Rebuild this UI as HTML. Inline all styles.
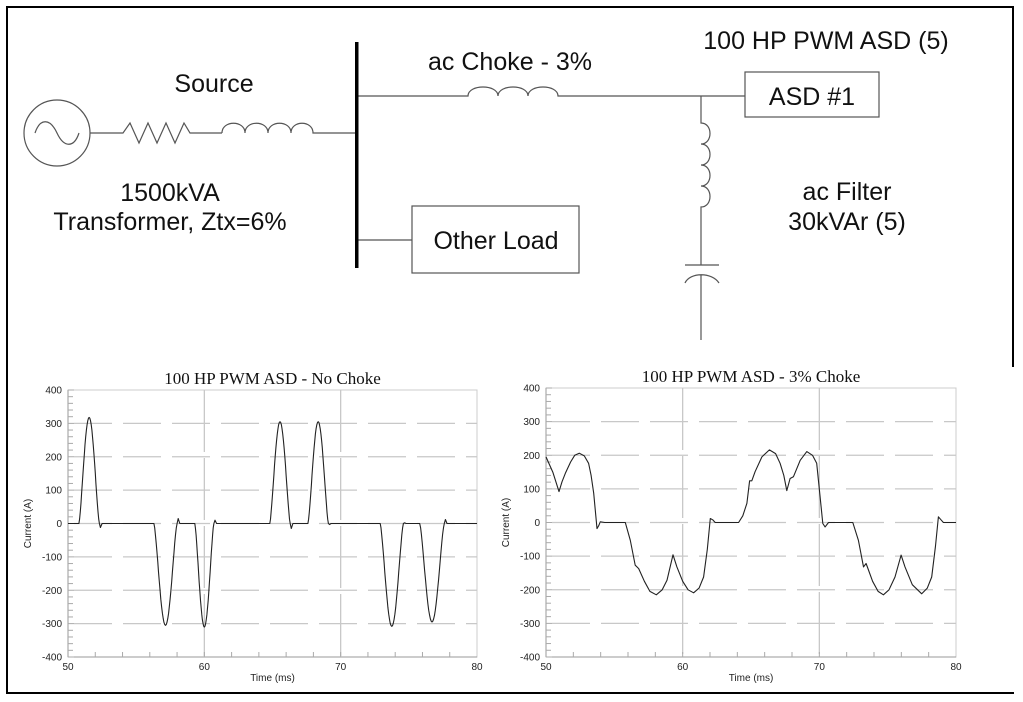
<!DOCTYPE html>
<html><head><meta charset="utf-8"><style>
html,body{margin:0;padding:0;background:#fff;}
svg{display:block;}
.s{font-family:"Liberation Sans",Arial,sans-serif;fill:#111;}
.t{font-family:"Liberation Serif",serif;font-size:17px;fill:#111;}
.k{font-family:"Liberation Sans",Arial,sans-serif;font-size:10px;fill:#222;}
</style></head><body>
<svg id="svg" width="1023" height="702" viewBox="0 0 1023 702" xmlns="http://www.w3.org/2000/svg">
<rect width="1023" height="702" fill="#fff"/>
<path d="M7,367 V7 H1013 V367" fill="none" stroke="#000" stroke-width="2"/>
<path d="M7,360 V693 H1014" fill="none" stroke="#000" stroke-width="2"/>
<g fill="none" stroke="#555" stroke-width="1.2">
<circle cx="57" cy="133" r="33"/>
<path d="M35,133 C40,118 50,118 57,133 C64,148 74,148 79,133"/>
<path d="M90,133 H123 L130,123 L139,143 L148,123 L157,143 L166,123 L175,143 L184,123 L190,133 H222"/>
<path d="M222,133 C222,120 245,120 245,133 C245,120 268,120 268,133 C268,120 291,120 291,133 C291,120 313,120 313,133 H355"/>
<path d="M358,96 H468 C468,84 498,84 498,96 C498,84 528,84 528,96 C528,84 558,84 558,96 H745"/>
<rect x="745" y="72" width="134" height="45"/>
<path d="M701,96 V123 C713,123 713,144 701,144 C713,144 713,165 701,165 C713,165 713,186 701,186 C713,186 713,207 701,207 V265"/>
<path d="M685,265 H719 M685,283 C690,272 712,272 719,283 M701,275 V340"/>
<path d="M358,240 H412"/>
<rect x="412" y="206" width="167" height="67"/>
</g>
<rect x="355" y="42" width="3.5" height="226" fill="#000"/>
<g class="s" font-size="25" text-anchor="middle">
<text x="214" y="92">Source</text>
<text x="170" y="201">1500kVA</text>
<text x="170" y="230">Transformer, Ztx=6%</text>
<text x="510" y="70">ac Choke - 3%</text>
<text x="826" y="49">100 HP PWM ASD (5)</text>
<text x="812" y="105">ASD #1</text>
<text x="847" y="200">ac Filter</text>
<text x="847" y="230">30kVAr (5)</text>
<text x="496" y="249">Other Load</text>
</g>
<g id="charts"></g>
</svg>
<script>
var NS="http://www.w3.org/2000/svg",G=document.getElementById("charts");
function el(n,a,txt){var e=document.createElementNS(NS,n);for(var k in a)e.setAttribute(k,a[k]);if(txt!=null)e.textContent=txt;G.appendChild(e);return e;}
function chart(x0,x1,ytop,ybot,title,pts){
 var X=function(t){return x0+(t-50)*(x1-x0)/30;},Y=function(i){return ytop+(400-i)*(ybot-ytop)/800;};
 el("rect",{x:x0,y:ytop,width:x1-x0,height:ybot-ytop,fill:"none",stroke:"#ccc","stroke-width":1});
 for(var v=-300;v<=300;v+=100){el("line",{x1:x0+6,x2:x1,y1:Y(v),y2:Y(v),stroke:"#c8c8c8","stroke-width":1.3,"stroke-dasharray":"38,11"});}
 [60,70].forEach(function(t){el("line",{x1:X(t),x2:X(t),y1:ytop,y2:ybot,stroke:"#c8c8c8","stroke-width":1.3,"stroke-dasharray":"62,6"});});
 el("line",{x1:x0,x2:x0,y1:ytop,y2:ybot,stroke:"#999","stroke-width":1});
 el("line",{x1:x0,x2:x1,y1:ybot,y2:ybot,stroke:"#999","stroke-width":1});
 for(var v=-400;v<=400;v+=20){el("line",{x1:x0,x2:x0+(v%100==0?6:5),y1:Y(v),y2:Y(v),stroke:"#aaa","stroke-width":1});}
 for(var t=52;t<80;t+=2){el("line",{x1:X(t),x2:X(t),y1:ybot,y2:ybot-5,stroke:"#aaa","stroke-width":1});}
 for(var v=-400;v<=400;v+=100){el("text",{x:x0-6,y:Y(v)+3.5,"class":"k","text-anchor":"end"},String(v));}
 [50,60,70,80].forEach(function(t){el("text",{x:X(t),y:ybot+13,"class":"k","text-anchor":"middle"},String(t));});
 el("text",{x:(x0+x1)/2,y:ybot+24,"class":"k","font-size":"9","text-anchor":"middle"},"Time (ms)");
 var cy=(ytop+ybot)/2,cx=x0-37;
 el("text",{x:cx,y:cy,"class":"k","font-size":"9","text-anchor":"middle",transform:"rotate(-90 "+cx+" "+cy+")"},"Current (A)");
 el("text",{x:(x0+x1)/2,y:ytop-6,"class":"t","text-anchor":"middle"},title);
 var d="";pts.forEach(function(p,i){d+=(i?"L":"M")+X(p[0]).toFixed(1)+","+Y(p[1]).toFixed(1);});
 el("path",{d:d,fill:"none",stroke:"#222","stroke-width":1.1,"stroke-linejoin":"round"});
}
function pulses(list){var pts=[[50,0]];list.forEach(function(p){var t0=p[0],t1=p[1],pk=p[2];
 for(var k=0;k<=30;k++){var u=k/30,s=Math.sin(Math.PI*u);pts.push([t0+(t1-t0)*u,pk*Math.pow(s,1.4)]);}
 pts.push([t1+0.08,p[3]]);pts.push([t1+0.2,0]);});pts.push([80,0]);return pts;}
var L=pulses([[50.8,52.3,318,-12],[56.3,58.0,-305,15],[59.3,60.7,-310,10],[64.8,66.3,305,-15],[67.6,69.1,305,-3],[72.9,74.6,-308,2],[75.8,77.6,-295,12]]);
chart(68,477,390,657,"100 HP PWM ASD - No Choke",L);
var R=[[50,195],[50.5,150],[50.95,92],[51.17,121],[51.41,146],[51.8,180],[52.1,200],[52.44,206],[52.8,198],[53.12,176],[53.3,140],[53.49,87],[53.73,-18],[53.85,-10],[53.97,2],[54.3,0],[55.8,0],[56.17,-53],[56.53,-127],[56.78,-137],[57.2,-175],[57.6,-205],[58.07,-215],[58.5,-200],[58.85,-172],[59.29,-96],[59.58,-132],[60.0,-175],[60.4,-200],[60.8,-209],[61.2,-195],[61.53,-162],[61.8,-80],[62.02,12],[62.2,8],[62.38,0],[64.09,0],[64.4,20],[64.7,57],[64.9,124],[65.06,124],[65.3,151],[65.8,195],[66.35,216],[66.8,205],[67.13,176],[67.4,140],[67.62,95],[67.86,131],[68.1,136],[68.6,185],[69.08,211],[69.5,200],[69.81,176],[70.0,100],[70.25,-3],[70.42,-13],[70.67,0],[72.45,0],[72.86,-53],[73.23,-132],[73.42,-122],[73.9,-175],[74.3,-205],[74.69,-215],[75.1,-200],[75.54,-162],[75.98,-97],[76.27,-132],[76.8,-185],[77.49,-212],[77.9,-195],[78.22,-162],[78.5,-70],[78.71,17],[78.9,8],[79.08,0],[80,0]];
chart(546,956,388,657,"100 HP PWM ASD - 3% Choke",R);
</script>
</body></html>
